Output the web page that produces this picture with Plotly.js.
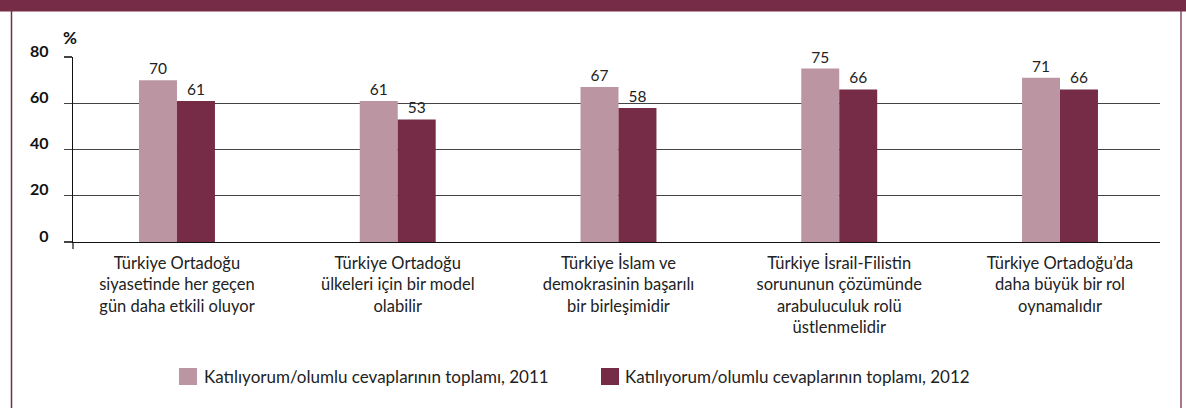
<!DOCTYPE html>
<html>
<head>
<meta charset="utf-8">
<script src="https://cdn.plot.ly/plotly-3.0.1.min.js"></script>
<style>
html,body{margin:0;padding:0;background:#fff;}
#chart{width:1186px;height:408px;}
</style>
</head>
<body>
<div id="chart"></div>
<script>
// ---- data ----
const categories = [
  "Türkiye Ortadoğu<br>siyasetinde her geçen<br>gün daha etkili oluyor",
  "Türkiye Ortadoğu<br>ülkeleri için bir model<br>olabilir",
  "Türkiye İslam ve<br>demokrasinin başarılı<br>bir birleşimidir",
  "Türkiye İsrail-Filistin<br>sorununun çözümünde<br>arabuluculuk rolü<br>üstlenmelidir",
  "Türkiye Ortadoğu’da<br>daha büyük bir rol<br>oynamalıdır"
];
const values2011 = [70, 61, 67, 75, 71];
const values2012 = [61, 53, 58, 66, 66];
const seriesNames = [
  "Katılıyorum/olumlu cevaplarının toplamı, 2011",
  "Katılıyorum/olumlu cevaplarının toplamı, 2012"
];
const yTicks = [0, 20, 40, 60, 80];
const yUnit = "%";

// ---- styles ----
const C2011 = "#bb96a2";
const C2012 = "#762c47";
const FONT = "Lato, 'Open Sans', sans-serif";
const W = 1186, H = 408;
const L = 73, R = 1160, T = 57, B = 242;
const px = X => (X - L) / (R - L);
const py = Y => (B - Y) / (B - T);

const idx = categories.map((c, i) => i);

const traces = [
  {
    type: "bar", name: seriesNames[0], x: idx, y: values2011,
    marker: {color: C2011}, text: values2011.map(String), textposition: "outside",
    textfont: {family: FONT, size: 15.5, color: "#222"}, cliponaxis: false, hoverinfo: "y"
  },
  {
    type: "bar", name: seriesNames[1], x: idx, y: values2012,
    marker: {color: C2012}, text: values2012.map(String), textposition: "outside",
    textfont: {family: FONT, size: 15.5, color: "#222"}, cliponaxis: false, hoverinfo: "y"
  }
];

const shapes = [
  // header band
  {type: "rect", xref: "paper", yref: "paper", x0: px(0), x1: px(W), y0: py(0), y1: py(11.5),
   fillcolor: "#762c47", line: {width: 0}, layer: "below"},
  // left border
  {type: "line", xref: "paper", yref: "paper", x0: px(11.5), x1: px(11.5), y0: py(11), y1: py(H),
   line: {color: "#762c47", width: 1.5}},
  // right border
  {type: "line", xref: "paper", yref: "paper", x0: px(1181), x1: px(1181), y0: py(11), y1: py(H),
   line: {color: "#8a4a62", width: 1.5}},
  // y axis extension below 0
  {type: "line", xref: "paper", yref: "paper", x0: 0, x1: 0, y0: 0, y1: py(249),
   line: {color: "#111", width: 1.2}},
  // legend squares
  {type: "rect", xref: "paper", yref: "paper", x0: px(179), x1: px(197), y0: py(368), y1: py(385),
   fillcolor: C2011, line: {width: 0}},
  {type: "rect", xref: "paper", yref: "paper", x0: px(601), x1: px(619), y0: py(368), y1: py(385),
   fillcolor: C2012, line: {width: 0}}
];

const annotations = [
  {text: yUnit, xref: "paper", yref: "paper", x: px(61), y: py(37), xanchor: "left", yanchor: "middle",
   showarrow: false, font: {family: FONT, size: 17, color: "#111", weight: "bold"}},
  {text: seriesNames[0], xref: "paper", yref: "paper", x: px(202), y: py(376), xanchor: "left", yanchor: "middle",
   showarrow: false, font: {family: FONT, size: 17, color: "#222"}},
  {text: seriesNames[1], xref: "paper", yref: "paper", x: px(623), y: py(376), xanchor: "left", yanchor: "middle",
   showarrow: false, font: {family: FONT, size: 17, color: "#222"}}
];

const layout = {
  width: W, height: H,
  margin: {l: L, r: W - R, t: T, b: H - B, pad: 0},
  paper_bgcolor: "#fff", plot_bgcolor: "#fff",
  showlegend: false,
  barmode: "group", bargap: 0.656, bargroupgap: 0,
  font: {family: FONT, color: "#222"},
  xaxis: {
    tickmode: "array", tickvals: idx, ticktext: categories,
    range: [-0.471, 4.453], showgrid: false, zeroline: false,
    showline: true, linecolor: "#111", linewidth: 1.2,
    ticks: "", tickfont: {family: FONT, size: 16.5, color: "#222"},
    ticklabelstandoff: 6, fixedrange: true
  },
  yaxis: {
    range: [0, 80], tickmode: "array", tickvals: yTicks, ticktext: yTicks.map(String),
    showgrid: true, gridcolor: "#444", gridwidth: 1.2,
    zeroline: false, showline: true, linecolor: "#111", linewidth: 1.2,
    ticks: "outside", ticklen: 8, tickcolor: "#444", tickwidth: 1.2,
    tickfont: {family: FONT, size: 16, color: "#111", weight: "bold"},
    ticklabelstandoff: 12, ticklabelshift: -6, fixedrange: true
  },
  shapes: shapes,
  annotations: annotations
};

Plotly.newPlot("chart", traces, layout, {displayModeBar: false, staticPlot: true});
</script>
</body>
</html>
